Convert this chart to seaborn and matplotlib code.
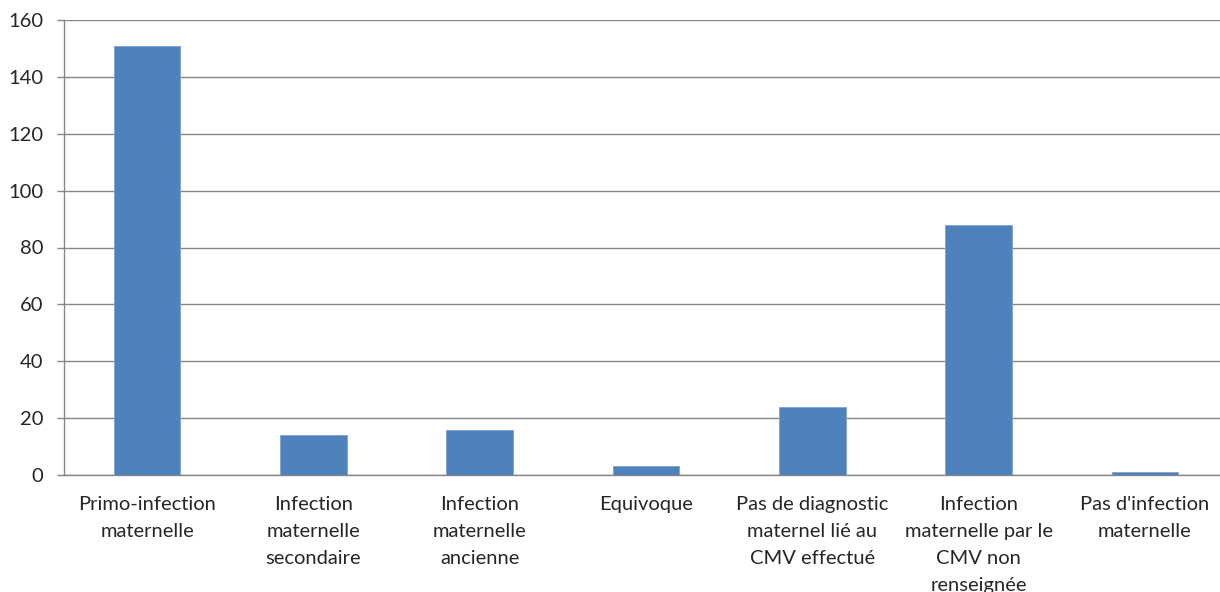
import matplotlib
matplotlib.use("Agg")
import matplotlib.pyplot as plt
import seaborn as sns
import pandas as pd

categories = [
    "Primo-infection\nmaternelle",
    "Infection\nmaternelle\nsecondaire",
    "Infection\nmaternelle\nancienne",
    "Equivoque",
    "Pas de diagnostic\nmaternel lié au\nCMV effectué",
    "Infection\nmaternelle par le\nCMV non\nrenseignée",
    "Pas d'infection\nmaternelle",
]
values = [151, 14, 16, 3, 24, 88, 1]
y_ticks = [0, 20, 40, 60, 80, 100, 120, 140, 160]

sns.set_theme(style="white")
plt.rcParams["font.family"] = ["Lato", "DejaVu Sans"]

df = pd.DataFrame({"categorie": categories, "effectif": values})

fig = plt.figure(figsize=(12.20, 5.92), dpi=100)
ax = fig.add_axes([64 / 1220, 117 / 592, 1164 / 1220, 455 / 592])

sns.barplot(data=df, x="categorie", y="effectif", color="#4F81BD",
            width=0.4, saturation=1, edgecolor="#7FA3D0", linewidth=0.6,
            ax=ax, zorder=3)

axis_grey = "#868686"
text_color = "#262626"
ax.set_ylim(0, 160)
ax.set_yticks(y_ticks)
ax.set_xlim(-0.5, len(categories) - 0.5)
ax.yaxis.grid(True, color=axis_grey, linewidth=1.0, zorder=0)
ax.xaxis.grid(False)

for side in ("top", "right"):
    ax.spines[side].set_visible(False)
for side in ("left", "bottom"):
    ax.spines[side].set_color(axis_grey)
    ax.spines[side].set_linewidth(1.0)

ax.set_xlabel("")
ax.set_ylabel("")

# category boundaries carry the tick marks, labels sit at the bar centres
ax.set_xticks(range(len(categories)))
ax.set_xticklabels(categories, linespacing=1.72, ha="center", va="top",
                   fontsize=14.5, color=text_color)
ax.set_xticks([i - 0.5 for i in range(len(categories) + 1)], minor=True)
ax.tick_params(axis="x", which="minor", length=5, width=1, color=axis_grey, direction="out")
ax.tick_params(axis="x", which="major", length=0, pad=15)
ax.tick_params(axis="y", which="major", length=5, width=1, color=axis_grey, direction="out",
               left=True, pad=10, labelsize=14.5, labelcolor=text_color)

fig.savefig("out.png", dpi=100)
